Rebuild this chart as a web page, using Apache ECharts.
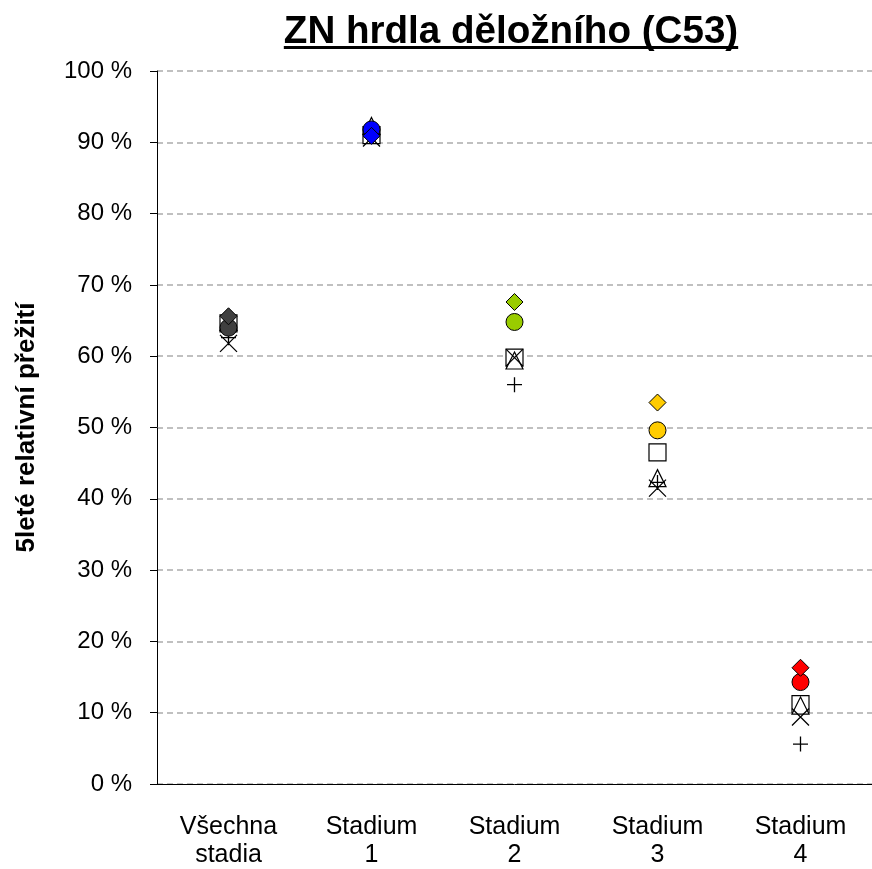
<!DOCTYPE html>
<html>
<head>
<meta charset="utf-8">
<script src="https://cdn.jsdelivr.net/npm/echarts@6/dist/echarts.min.js"></script>
<style>
  html, body { margin: 0; padding: 0; background: #fff; }
  #chart { width: 872px; height: 869px; }
</style>
</head>
<body>
<div id="chart"></div>
<script>
// kategorie na ose x
const categories = ['Všechna\nstadia', 'Stadium\n1', 'Stadium\n2', 'Stadium\n3', 'Stadium\n4']
// barva plných značek podle stadia
const stageColors = ['#404040', '#0000ff', '#99cc00', '#ffcc00', '#ff0000']
const yTicks = [0, 10, 20, 30, 40, 50, 60, 70, 80, 90, 100]

// hodnoty (%), jedna řada na typ značky
const squareVals = [64.6, 91.0, 59.8, 46.5, 11.2]
const triangleVals = [64.8, 92.3, 59.4, 42.9, 11.0]
const crossVals = [61.8, 90.6, 59.8, 41.5, 9.4]
const plusVals = [62.6, 90.8, 56.0, 42.3, 5.6]
const circleVals = [64.0, 91.8, 64.8, 49.6, 14.3]
const diamondVals = [65.6, 90.9, 67.6, 53.5, 16.3]

const titleText = 'ZN hrdla děložního (C53)'
const FONT = '"Liberation Sans", Arial, sans-serif'
const TITLE_FONT = 'bold 38.6px ' + FONT

const chart = echarts.init(document.getElementById('chart'))

// šířka titulku kvůli podtržení
const ctx = document.createElement('canvas').getContext('2d')
ctx.font = TITLE_FONT
const titleW = ctx.measureText(titleText).width
const titleX = 511

function openSeries(name, vals, symbol, size) {
    return {
        name: name,
        type: 'scatter',
        symbol: symbol,
        symbolSize: size,
        data: vals,
        itemStyle: { color: '#fff', borderColor: '#000', borderWidth: 1.2, opacity: 1 },
        emphasis: { disabled: true }
    }
}

function lineSeries(name, vals, path, size) {
    return {
        name: name,
        type: 'scatter',
        symbol: path,
        symbolSize: size,
        data: vals,
        itemStyle: { color: 'rgba(0,0,0,0)', borderColor: '#000', borderWidth: 1.3, opacity: 1 },
        emphasis: { disabled: true }
    }
}

function filledSeries(name, vals, symbol, size) {
    return {
        name: name,
        type: 'scatter',
        symbol: symbol,
        symbolSize: size,
        data: vals.map((v, i) => ({
            value: v,
            itemStyle: { color: stageColors[i] }
        })),
        itemStyle: { borderColor: '#000', borderWidth: 1, opacity: 1 },
        emphasis: { disabled: true }
    }
}

const option = {
    animation: false,
    backgroundColor: '#fff',
    textStyle: { fontFamily: FONT },
    grid: {
        left: 157,
        right: -5,
        top: 71,
        bottom: 82,
        containLabel: false
    },
    graphic: [
        {
            type: 'text',
            left: titleX - titleW / 2,
            top: 13,
            style: {
                text: titleText,
                font: TITLE_FONT,
                fill: '#000'
            }
        },
        {
            type: 'rect',
            left: titleX - titleW / 2,
            top: 46,
            shape: { width: titleW, height: 3 },
            style: { fill: '#000' }
        }
    ],
    xAxis: {
        type: 'category',
        data: categories,
        boundaryGap: true,
        axisLine: { lineStyle: { color: '#000', width: 1 } },
        axisTick: { show: false },
        axisLabel: {
            color: '#000',
            fontSize: 25,
            lineHeight: 28,
            margin: 29,
            interval: 0
        },
        splitLine: { show: false }
    },
    yAxis: {
        type: 'value',
        min: 0,
        max: 100,
        interval: 10,
        name: '5leté relativní přežití',
        nameLocation: 'middle',
        nameGap: 117,
        nameTextStyle: { color: '#000', fontSize: 26, fontWeight: 'bold' },
        axisLine: { show: true, lineStyle: { color: '#000', width: 1 } },
        axisTick: { show: true, length: 7, lineStyle: { color: '#000' } },
        axisLabel: {
            color: '#000',
            fontSize: 24,
            margin: 25,
            formatter: v => yTicks.includes(v) ? v + ' %' : ''
        },
        splitLine: {
            show: true,
            lineStyle: { color: '#c0c0c0', width: 2, type: [6, 4] }
        }
    },
    series: [
        openSeries('čtverec', squareVals, 'rect', 17),
        openSeries('trojúhelník', triangleVals, 'triangle', 17),
        lineSeries('křížek', crossVals, 'path://M0,0L10,10M10,0L0,10', 17),
        lineSeries('plus', plusVals, 'path://M0,5L10,5M5,0L5,10', 15),
        filledSeries('kruh', circleVals, 'circle', 17),
        filledSeries('kosočtverec', diamondVals, 'diamond', 17)
    ]
}

chart.setOption(option)
</script>
</body>
</html>
